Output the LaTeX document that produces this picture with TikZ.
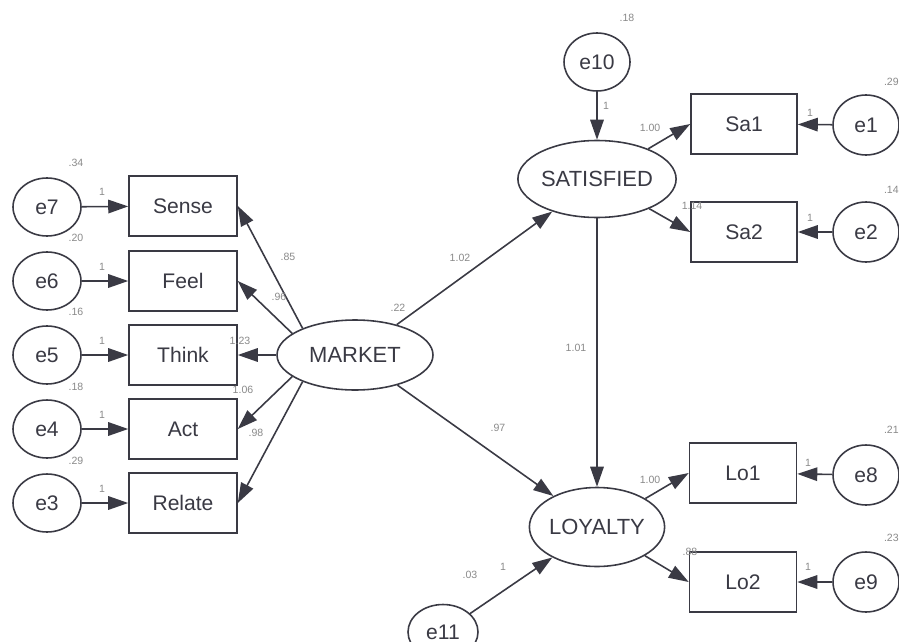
\documentclass[tikz,border=0pt]{standalone}
\usepackage{fontspec}
\setmainfont{Liberation Sans}
\usetikzlibrary{shapes.geometric,arrows.meta}
\definecolor{ink}{HTML}{3A3A44}
\definecolor{lbl}{HTML}{8A8A8A}
\tikzset{
  obsbox/.style={draw=ink,line width=0.9pt,fill=white,minimum width=2.16cm,minimum height=1.2cm,inner sep=0pt,text=ink,font=\fontsize{12}{12}\selectfont},
  errc/.style={ellipse,draw=ink,line width=0.9pt,fill=white,minimum width=1.36cm,minimum height=1.16cm,inner sep=0pt,text=ink,font=\fontsize{12}{12}\selectfont},
  latent/.style={ellipse,draw=ink,line width=0.9pt,fill=white,inner sep=0pt,text=ink,font=\fontsize{12.5}{12.5}\selectfont},
  path/.style={draw=ink,line width=0.9pt,-{Triangle[length=4mm,width=2.7mm]}},
  lab/.style={text=lbl,font=\fontsize{6}{6}\selectfont,inner sep=0pt}
}
\begin{document}
\begin{tikzpicture}[x=0.02cm,y=-0.02cm]
\useasboundingbox[fill=white] (0,0) rectangle (899,642);
% error terms for MARKET indicators
\node[errc] (e7) at (47,207) {e7};
\node[errc] (e6) at (47,281) {e6};
\node[errc] (e5) at (47,355) {e5};
\node[errc] (e4) at (47,429) {e4};
\node[errc] (e3) at (47,503) {e3};
% indicators
\node[obsbox] (sense) at (183,206) {Sense};
\node[obsbox] (feel) at (183,281) {Feel};
\node[obsbox] (think) at (183,355) {Think};
\node[obsbox] (act) at (183,429) {Act};
\node[obsbox] (relate) at (183,503) {Relate};
% latent variables
\node[latent,minimum width=3.12cm,minimum height=1.4cm] (market) at (355,355) {MARKET};
\node[latent,minimum width=2.8cm,minimum height=1.54cm] (sat) at (597,179) {SATISFIED};
\node[latent,minimum width=2.66cm,minimum height=1.58cm] (loy) at (597,527) {LOYALTY};
\node[errc,minimum width=1.32cm] (e10) at (597,62) {e10};
\node[errc,minimum width=1.4cm,minimum height=1.1cm] (e11) at (443,632) {e11};
% right indicators
\node[obsbox,minimum width=2.12cm] (sa1) at (744,124) {Sa1};
\node[obsbox,minimum width=2.12cm] (sa2) at (744,232) {Sa2};
\node[obsbox,minimum width=2.14cm] (lo1) at (743,473) {Lo1};
\node[obsbox,minimum width=2.14cm] (lo2) at (743,582) {Lo2};
\node[errc,minimum width=1.32cm,minimum height=1.2cm] (e1) at (866,125) {e1};
\node[errc,minimum width=1.32cm,minimum height=1.2cm] (e2) at (866,232) {e2};
\node[errc,minimum width=1.32cm,minimum height=1.2cm] (e8) at (866,475) {e8};
\node[errc,minimum width=1.32cm,minimum height=1.2cm] (e9) at (866,582) {e9};
% paths
\foreach \e/\b in {e7/sense,e6/feel,e5/think,e4/act,e3/relate,e1/sa1,e2/sa2,e8/lo1,e9/lo2}
  \draw[path] (\e) -- (\b);
\draw[path] (market.153) -- (sense.east);
\draw[path] (market.161) -- (feel.east);
\draw[path] (market.180) -- (think.east);
\draw[path] (market.199) -- (act.east);
\draw[path] (market.207) -- (relate.east);
\draw[path] (market) -- (sat);
\draw[path] (market) -- (loy);
\draw[path] (sat) -- (loy);
\draw[path] (e10) -- (sat);
\draw[path] (e11) -- (loy);
\draw[path] (sat) -- (sa1.west);
\draw[path] (sat) -- (sa2.west);
\draw[path] (loy) -- (lo1.west);
\draw[path] (loy) -- (lo2.west);
% labels
\node[lab] at (76,163) {.34};
\node[lab] at (76,238) {.20};
\node[lab] at (76,312) {.16};
\node[lab] at (76,387) {.18};
\node[lab] at (76,461) {.29};
\foreach \yy in {192,267,341,415,489} \node[lab] at (102,\yy) {1};
\node[lab] at (288,257) {.85};
\node[lab] at (279,297) {.96};
\node[lab] at (240,341) {1.23};
\node[lab] at (243,390) {1.06};
\node[lab] at (256,433) {.98};
\node[lab] at (398,308) {.22};
\node[lab] at (460,258) {1.02};
\node[lab] at (576,348) {1.01};
\node[lab] at (498,428) {.97};
\node[lab] at (627,18) {.18};
\node[lab] at (606,106) {1};
\node[lab] at (650,128) {1.00};
\node[lab] at (692,206) {1.14};
\node[lab] at (810,113) {1};
\node[lab] at (810,218) {1};
\node[lab,anchor=east] at (899,82) {.29};
\node[lab,anchor=east] at (899,190) {.14};
\node[lab] at (650,480) {1.00};
\node[lab] at (690,552) {.88};
\node[lab] at (808,463) {1};
\node[lab] at (808,567) {1};
\node[lab,anchor=east] at (899,430) {.21};
\node[lab,anchor=east] at (899,538) {.23};
\node[lab] at (470,575) {.03};
\node[lab] at (503,567) {1};
\end{tikzpicture}
\end{document}
